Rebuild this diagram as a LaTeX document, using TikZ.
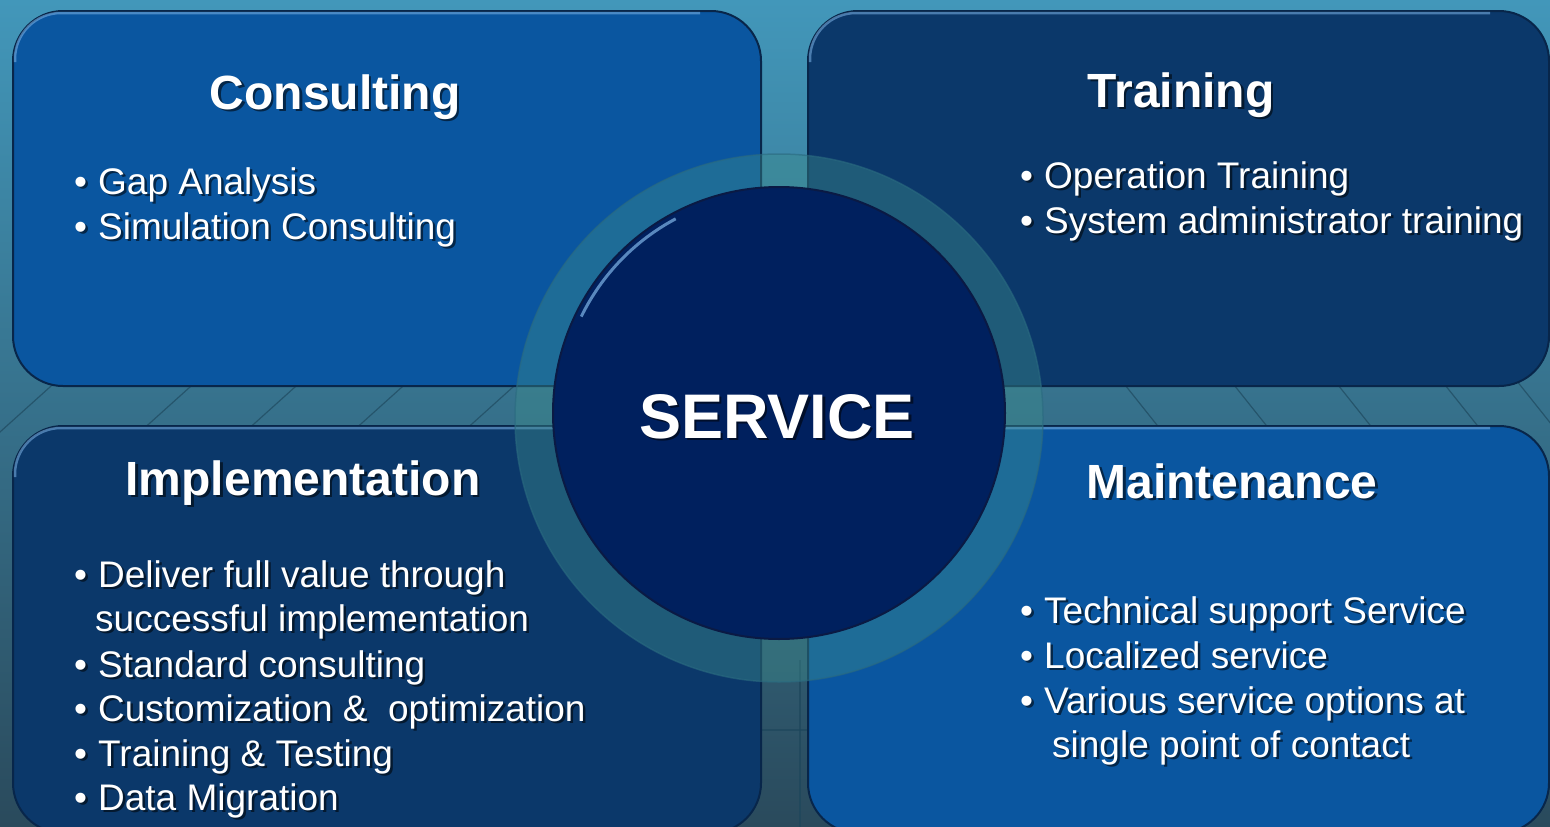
\documentclass[tikz,border=0pt]{standalone}
\usepackage{fontspec}
\setmainfont{Liberation Sans}
\definecolor{bgtop}{HTML}{4297BA}
\definecolor{bgmid}{HTML}{2F6983}
\definecolor{bgbot}{HTML}{2A4A5C}
\definecolor{gridcol}{HTML}{1D465B}
\definecolor{bluemid}{HTML}{0A56A0}
\definecolor{bluedark}{HTML}{0B386A}
\definecolor{panelline}{HTML}{08264A}
\definecolor{hlcol}{HTML}{7FB5E8}
\definecolor{ringcol}{HTML}{3C8C8C}
\definecolor{ringedge}{HTML}{2A6A80}
\definecolor{corecol}{HTML}{00205E}
\definecolor{coreedge}{HTML}{0A1A44}
\tikzset{
  panel/.style={rounded corners=50pt, draw=panelline, line width=2pt, inner sep=0pt, anchor=north west},
  hl/.style={draw=hlcol, line width=2.5pt, draw opacity=0.55, rounded corners=46pt},
  gridline/.style={draw=gridcol, line width=1.2pt, draw opacity=0.65},
  ttl/.style={font=\bfseries\fontsize{48}{52}\selectfont, text=white, inner sep=0pt, anchor=base},
  itm/.style={font=\fontsize{37}{45}\selectfont, text=white, inner sep=0pt, anchor=base west},
  big/.style={font=\bfseries\fontsize{63}{70}\selectfont, text=white, inner sep=0pt, anchor=base},
  shd/.style={text=black, text opacity=0.55, xshift=2.5pt, yshift=-2.5pt},
}
\newcommand\stxt[4]{\node[#3,shd] (#1-s) at (#2) {#4};\node[#3] (#1) at (#2) {#4};}
\newcommand\bul{\makebox[24pt][l]{•}}
\begin{document}
\begin{tikzpicture}[x=1pt,y=-1pt]
\useasboundingbox (0,0) rectangle (1550,827);
% background
\fill[top color=bgtop, middle color=bgmid, bottom color=bgbot] (0,0) rectangle (1550,827);
% faint floor grid
\foreach \gx in {30,170,275,382,493} {
  \draw[gridline] (\gx+80,333) -- (\gx-80,477);
}
\foreach \gx in {1141,1250,1354,1461,1536} {
  \draw[gridline] (\gx-55,336) -- (\gx+55,474);
}
\draw[gridline] (800,660) -- (800,827);
\draw[gridline] (740,730) -- (830,730);
% panels
\node[panel, fill=bluemid, minimum width=748pt, minimum height=375pt] (consulting) at (12,10) {};
\node[panel, fill=bluedark, minimum width=741pt, minimum height=375pt] (training) at (807,10) {};
\node[panel, fill=bluedark, minimum width=748pt, minimum height=407pt] (implementation) at (12,425) {};
\node[panel, fill=bluemid, minimum width=741pt, minimum height=407pt] (maintenance) at (807,425) {};
% highlights
\draw[hl] (15,62) |- (700,13);
\draw[hl] (810,62) |- (1490,13);
\draw[hl] (15,477) |- (700,428);
\draw[hl] (810,477) |- (1490,428);
% central ring and core
\node[circle, minimum size=528pt, inner sep=0pt, fill=ringcol, fill opacity=0.42, draw=ringedge, draw opacity=0.6, line width=1.5pt] (ring) at (779,418) {};
\node[circle, minimum size=452pt, inner sep=0pt, fill=corecol, draw=coreedge, line width=2pt] (core) at (779,413) {};
\draw[draw=hlcol, line width=3pt, draw opacity=0.7] ([shift={(-103.3,-194.2)}]core.center) arc[start angle=-118, end angle=-154, radius=220];
% central text
\stxt{service}{777,438}{big}{SERVICE}
% Consulting
\stxt{t-cons}{335,109}{ttl}{Consulting}
\stxt{c1}{74,194}{itm}{\bul Gap Analysis}
\stxt{c2}{74,239}{itm}{\bul Simulation Consulting}
% Training
\stxt{t-train}{1181,107}{ttl}{Training}
\stxt{r1}{1020,188}{itm}{\bul Operation Training}
\stxt{r2}{1020,233}{itm}{\bul System administrator training}
% Implementation
\stxt{t-impl}{303,495}{ttl}{Implementation}
\stxt{i1}{74,587}{itm}{\bul Deliver full value through}
\stxt{i2}{95,631}{itm}{successful implementation}
\stxt{i3}{74,677}{itm}{\bul Standard consulting}
\stxt{i4}{74,721}{itm}{\bul Customization \&\ \ optimization}
\stxt{i5}{74,766}{itm}{\bul Training \& Testing}
\stxt{i6}{74,810}{itm}{\bul Data Migration}
% Maintenance
\stxt{t-maint}{1232,498}{ttl}{Maintenance}
\stxt{m1}{1020,623}{itm}{\bul Technical support Service}
\stxt{m2}{1020,668}{itm}{\bul Localized service}
\stxt{m3}{1020,713}{itm}{\bul Various service options at}
\stxt{m4}{1052,757}{itm}{single point of contact}
\end{tikzpicture}
\end{document}
